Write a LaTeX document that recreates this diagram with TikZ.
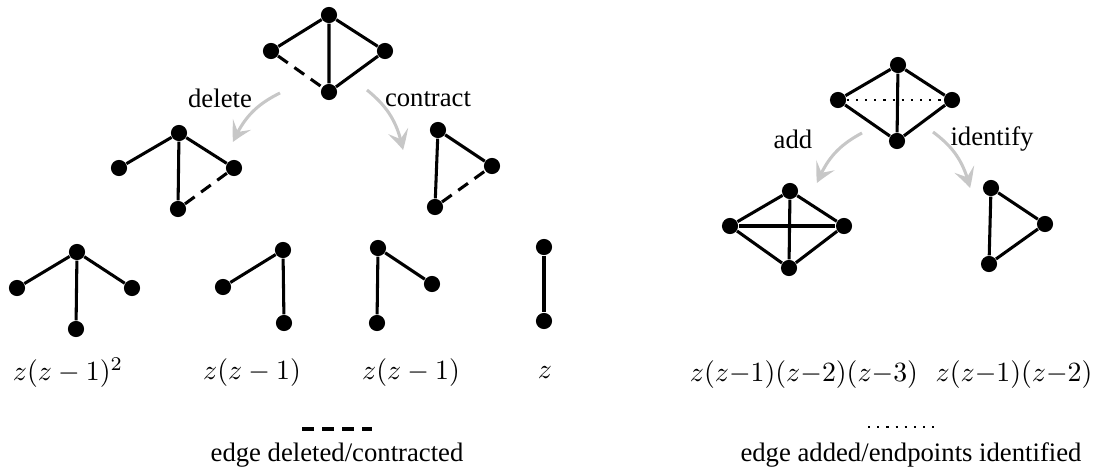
\documentclass[tikz,border=0pt]{standalone}
\usepackage[no-math]{fontspec}
\setmainfont{Liberation Serif}
\usetikzlibrary{arrows.meta,bending}

\tikzset{
  vtx/.style={circle,fill=black,inner sep=0pt,minimum size=5.8pt},
  edge/.style={line width=1.1pt},
  deledge/.style={line width=1.1pt,dash pattern=on 4.3pt off 2.9pt},
  newedge/.style={line width=1pt,dash pattern=on 0.8pt off 2.5pt},
  op/.style={draw=black!22,line width=1.1pt,-{Stealth[length=7pt,width=7.5pt,inset=3pt,bend]}},
  lbl/.style={font=\fontsize{9.6}{11.5}\selectfont},
}

\begin{document}
\begin{tikzpicture}[x=0.3597pt, y=-0.3597pt]
\useasboundingbox (0,0) rectangle (1104,473);

% graph with the edge to delete/contract
\node[vtx] (gt) at (329,15) {};
\node[vtx] (gl) at (271,51) {};
\node[vtx] (gr) at (385,51) {};
\node[vtx] (gb) at (329,92) {};
\draw[edge] (gl) -- (gt) -- (gr) -- (gb) -- (gt);
\draw[deledge] (gl) -- (gb);

% delete
\coordinate (d1) at (280,93);
\coordinate (d2) at (233,142);
\draw[op] (d1) to[bend right=20] (d2);
\node[lbl] (ldel) at (220,98) {delete};
\node[vtx] (dt) at (179,133) {};
\node[vtx] (dl) at (119,168) {};
\node[vtx] (dr) at (234,168) {};
\node[vtx] (db) at (178,209) {};
\draw[edge] (dl) -- (dt) -- (dr);
\draw[edge] (dt) -- (db);
\draw[deledge] (db) -- (dr);

% contract
\coordinate (c1) at (367,90);
\coordinate (c2) at (403,150);
\draw[op] (c1) to[bend left=20] (c2);
\node[lbl] (lcon) at (428,99) {contract};
\node[vtx] (ct) at (438,130) {};
\node[vtx] (cr) at (492,166) {};
\node[vtx] (cb) at (435,207) {};
\draw[edge] (cb) -- (ct) -- (cr);
\draw[deledge] (cb) -- (cr);

% bottom row of the deletion/contraction
\node[vtx] (at) at (77,252) {};
\node[vtx] (al) at (17,288) {};
\node[vtx] (ar) at (132,288) {};
\node[vtx] (ab) at (76,329) {};
\draw[edge] (al) -- (at) -- (ar);
\draw[edge] (at) -- (ab);
\node (pa) at (68,373) {$z(z-1)^2$};

\node[vtx] (bt) at (283,250) {};
\node[vtx] (bl) at (223,287) {};
\node[vtx] (bb) at (284,323) {};
\draw[edge] (bl) -- (bt) -- (bb);
\node (pb) at (252,373) {$z(z-1)$};

\node[vtx] (et) at (378,248) {};
\node[vtx] (er) at (432,284) {};
\node[vtx] (eb) at (377,323) {};
\draw[edge] (eb) -- (et) -- (er);
\node (pc) at (411,373) {$z(z-1)$};

\node[vtx] (ft) at (544,247) {};
\node[vtx] (fb) at (544,321) {};
\draw[edge] (ft) -- (fb);
\node (pd) at (545,373) {$z$};

% legend left
\coordinate (k1) at (302,429);
\coordinate (k2) at (372,429);
\draw[deledge] (k1) -- (k2);
\node[lbl] (kdel) at (337,455) {edge deleted/contracted};

% graph with the edge to add/identify
\node[vtx] (ht) at (898,65) {};
\node[vtx] (hl) at (838,100) {};
\node[vtx] (hr) at (952,100) {};
\node[vtx] (hb) at (897,141) {};
\draw[edge] (hl) -- (ht) -- (hr) -- (hb) -- (hl);
\draw[edge] (ht) -- (hb);
\draw[newedge] (hl) -- (hr);

% add
\coordinate (a1) at (862,133);
\coordinate (a2) at (817,183);
\draw[op] (a1) to[bend right=20] (a2);
\node[lbl] (ladd) at (793,139) {add};
\node[vtx] (mt) at (790,191) {};
\node[vtx] (ml) at (730,226) {};
\node[vtx] (mr) at (844,226) {};
\node[vtx] (mb) at (789,268) {};
\draw[edge] (ml) -- (mt) -- (mr) -- (mb) -- (ml);
\draw[edge] (mt) -- (mb);
\draw[edge] (ml) -- (mr);

% identify
\coordinate (i1) at (933,132);
\coordinate (i2) at (970,188);
\draw[op] (i1) to[bend left=20] (i2);
\node[lbl] (lid) at (992,139) {identify};
\node[vtx] (nt) at (991,188) {};
\node[vtx] (nr) at (1045,224) {};
\node[vtx] (nb) at (989,264) {};
\draw[edge] (nt) -- (nr) -- (nb) -- (nt);

\node (pe) at (804,375) {$z(z{-}1)(z{-}2)(z{-}3)$};
\node (pf) at (1014,375) {$z(z{-}1)(z{-}2)$};

% legend right
\coordinate (q1) at (868,427);
\coordinate (q2) at (940,427);
\draw[newedge] (q1) -- (q2);
\node[lbl] (kadd) at (911,455) {edge added/endpoints identified};
\end{tikzpicture}
\end{document}
